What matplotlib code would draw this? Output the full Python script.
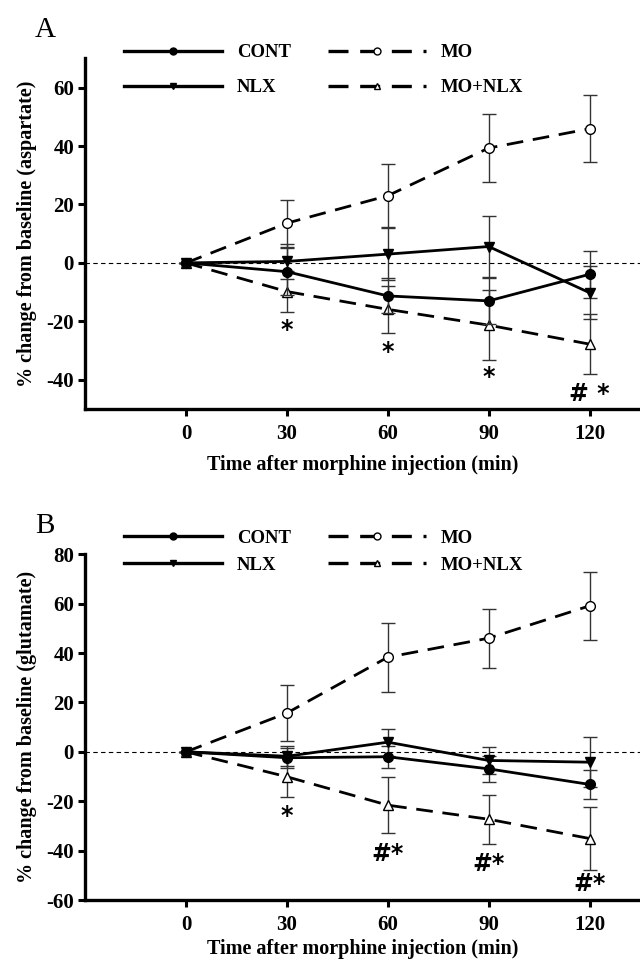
import numpy as np
import matplotlib
matplotlib.use("Agg")
import matplotlib.pyplot as plt
from matplotlib.lines import Line2D

plt.rcParams['font.family'] = ['Liberation Serif', 'DejaVu Serif']
plt.rcParams['font.weight'] = 'bold'
plt.rcParams['axes.unicode_minus'] = False

times = [0, 30, 60, 90, 120]

# panel A: aspartate
a_cont = [0, -3.0, -11.3, -13.0, -3.9]
a_cont_err = [0, 8, 6, 8, 8]
a_nlx = [0, 0.5, 3.0, 5.6, -10.2]
a_nlx_err = [0, 6, 9, 10.3, 9]
a_mo = [0, 13.6, 23.0, 39.3, 45.9]
a_mo_err = [0, 8, 10.7, 11.5, 11.5]
a_monlx = [0, -9.8, -15.9, -21.3, -27.8]
a_monlx_err = [0, 7, 8, 12, 10.3]
a_marks = ["*", "*", "*", "# *"]
a_mark_y = [-23, -30.4, -39, -45]

# panel B: glutamate
b_cont = [0, -2.4, -2.0, -6.9, -13.2]
b_cont_err = [0, 4, 4.5, 5.3, 5.8]
b_nlx = [0, -1.8, 3.9, -3.5, -4.2]
b_nlx_err = [0, 4, 5.5, 5.5, 10]
b_mo = [0, 15.7, 38.3, 46.0, 59.1]
b_mo_err = [0, 11.2, 14, 12, 13.7]
b_monlx = [0, -10.1, -21.6, -27.3, -35.1]
b_monlx_err = [0, 8.2, 11.4, 10, 12.8]
b_marks = ["*", "#*", "#*", "#*"]
b_mark_y = [-26, -41.4, -45.5, -53.5]

DASH = (0, (6, 3.5))


def panel(ax, cont, cont_e, nlx, nlx_e, mo, mo_e, monlx, monlx_e,
          marks, mark_y, ylim, yticks, ylabel, letter, leg_y, leg_sp, xlpad):
    eb = dict(ecolor='#333333', elinewidth=1.0, capsize=5, capthick=1.0)
    ax.axhline(0, color='black', lw=0.8, ls=(0, (4, 3)), zorder=1)
    ax.errorbar(times, mo, yerr=mo_e, color='black', lw=2, ls=DASH,
                marker='o', mfc='white', mec='black', ms=7, mew=1,
                zorder=3, **eb)
    ax.errorbar(times, monlx, yerr=monlx_e, color='black', lw=2, ls=DASH,
                marker='^', mfc='white', mec='black', ms=7, mew=1,
                zorder=3, **eb)
    ax.errorbar(times, cont, yerr=cont_e, color='black', lw=2, ls='-',
                marker='o', mfc='black', mec='black', ms=7,
                zorder=4, **eb)
    ax.errorbar(times, nlx, yerr=nlx_e, color='black', lw=2, ls='-',
                marker='v', mfc='black', mec='black', ms=7,
                zorder=4, **eb)
    for t, m, y in zip(times[1:], marks, mark_y):
        ax.text(t, y, m, ha='center', va='center', fontsize=17,
                fontweight='bold', family='DejaVu Sans')
    ax.set_xlim(-30, 135)
    ax.set_ylim(*ylim)
    ax.set_xticks(times)
    ax.set_yticks(yticks)
    for s in ['top', 'right']:
        ax.spines[s].set_visible(False)
    for s in ['left', 'bottom']:
        ax.spines[s].set_linewidth(2.4)
    ax.tick_params(width=2.2, length=5, labelsize=15, pad=3)
    ax.tick_params(axis='x', pad=6)
    ax.set_xlabel('Time after morphine injection (min)', fontsize=14.5,
                  fontweight='bold', labelpad=xlpad)
    ax.set_ylabel(ylabel, fontsize=14.5, fontweight='bold', labelpad=7)
    handles = [
        Line2D([], [], color='black', lw=2.4, marker='o', ms=5, mfc='black'),
        Line2D([], [], color='black', lw=2.4, marker='v', ms=5, mfc='black'),
        Line2D([], [], color='black', lw=2.4, ls=DASH, marker='o', ms=5,
               mfc='white', mew=1),
        Line2D([], [], color='black', lw=2.4, ls=DASH, marker='^', ms=5,
               mfc='white', mew=1),
    ]
    labels = ['CONT', 'NLX', 'MO', 'MO+NLX']
    ax.legend(handles, labels, ncol=2, frameon=False, loc='center left',
              bbox_to_anchor=(0.04, leg_y), handlelength=5.2, fontsize=13.5,
              columnspacing=2.0, labelspacing=leg_sp, handletextpad=0.8)
    fig.text(0.055, ax.get_position().y1 + 0.029, letter, fontsize=21,
             fontweight='normal', va='center')


fig = plt.figure(figsize=(6.4, 9.66), dpi=100)
ax1 = fig.add_axes([0.133, 0.5766, 0.867, 0.363])
ax2 = fig.add_axes([0.133, 0.0683, 0.867, 0.358])

panel(ax1, a_cont, a_cont_err, a_nlx, a_nlx_err, a_mo, a_mo_err,
      a_monlx, a_monlx_err, a_marks, a_mark_y, (-50, 70),
      [-40, -20, 0, 20, 40, 60],
      '% change from baseline (aspartate)', 'A', 0.966, 0.95, 8)
panel(ax2, b_cont, b_cont_err, b_nlx, b_nlx_err, b_mo, b_mo_err,
      b_monlx, b_monlx_err, b_marks, b_mark_y, (-60, 80),
      [-60, -40, -20, 0, 20, 40, 60, 80],
      '% change from baseline (glutamate)', 'B', 1.007, 0.55, 3)

fig.savefig('out.png', dpi=100)
